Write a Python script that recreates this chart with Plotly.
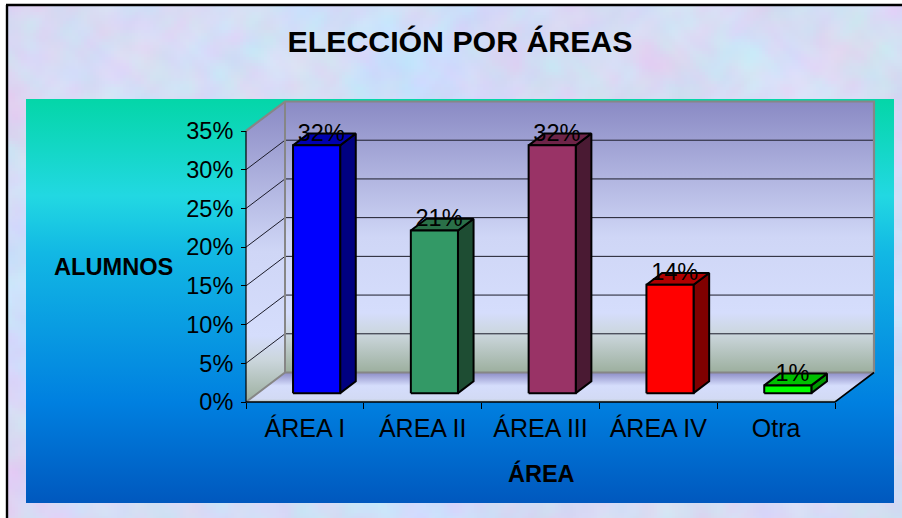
import base64, struct, zlib
import numpy as np
import plotly.graph_objects as go

# ---- data ----
categories = ["ÁREA I", "ÁREA II", "ÁREA III", "ÁREA IV", "Otra"]
values = [32, 21, 32, 14, 1]
labels = ["32%", "21%", "32%", "14%", "1%"]
y_ticks = [0, 5, 10, 15, 20, 25, 30, 35]
y_ticktext = ["0%", "5%", "10%", "15%", "20%", "25%", "30%", "35%"]
front_colors = ["#0000FF", "#339966", "#993366", "#FF0000", "#00FF00"]
side_colors = ["#000080", "#1E4D33", "#4A1A33", "#800000", "#009900"]
top_colors = ["#0000B0", "#2A7048", "#6E2448", "#B00000", "#00C000"]

W, H = 902, 518
X0, Y0 = 246, 402       # origin of the front plane in pixels
PX_X = 117.8            # pixels per category
PX_Y = 7.743            # pixels per percent
DX = 39 / PX_X          # depth shift in x units
DY = 29.5 / PX_Y        # depth shift in y units
BAR = 0.4
D_FRONT, D_BACK = 0.3, 0.7
N = len(categories)
YMAX = y_ticks[-1]
FONT = "Liberation Sans, Arial, sans-serif"


def px_x(p):
    return (p - X0) / PX_X


def px_y(p):
    return (Y0 - p) / PX_Y


def proj(x, y, d):
    return x + DX * d, y + DY * d


def texture():
    yy, xx = np.mgrid[0:H // 3 + 1, 0:W // 3 + 1].astype(float)

    def blobs(k, ph):
        out = np.zeros_like(xx)
        for j, (fx, fy, amp) in enumerate([(0.031, 0.043, 0.7), (0.067, 0.053, 0.8),
                                           (0.113, 0.137, 0.8), (0.241, 0.197, 0.6),
                                           (0.431, 0.379, 0.4)]):
            wx = xx + 5 * np.sin(yy * 0.19 * k + j + ph)
            wy = yy + 5 * np.sin(xx * 0.17 * k + 2 * j + ph)
            out += amp * np.sin(wx * fx * k + ph + j) * np.sin(wy * fy * k + 1.7 * ph - j)
        return out

    a, b, c = blobs(1.0, 0.4), blobs(1.13, 2.1), blobs(0.91, 4.3)
    img = np.stack([212 + 8 * a - 2 * b, 221 + 6 * b - 4 * a, 246 + 4 * c], -1)
    img = np.clip(img, 0, 255).astype(np.uint8)
    img = img.repeat(3, 0).repeat(3, 1)[:H, :W]
    raw = b"".join(b"\x00" + row.tobytes() for row in img)

    def chunk(t, d):
        return struct.pack(">I", len(d)) + t + d + struct.pack(">I", zlib.crc32(t + d))

    png = (b"\x89PNG\r\n\x1a\n" +
           chunk(b"IHDR", struct.pack(">IIBBBBB", W, H, 8, 2, 0, 0, 0)) +
           chunk(b"IDAT", zlib.compress(raw, 9)) + chunk(b"IEND", b""))
    return "data:image/png;base64," + base64.b64encode(png).decode()


def poly(xs, ys, color=None, line=None, lw=1, grad=None):
    kw = dict(x=list(xs) + [xs[0]], y=list(ys) + [ys[0]], mode="lines", fill="toself",
              hoverinfo="skip", showlegend=False,
              line=dict(color=line or "rgba(0,0,0,0)", width=lw, simplify=False))
    if grad is not None:
        kw["fillgradient"] = dict(type="vertical", colorscale=grad[0], start=grad[1], stop=grad[2])
        kw["fillcolor"] = "rgba(0,0,0,0)"
    else:
        kw["fillcolor"] = color
    return go.Scatter(**kw)


def path(xs, ys, color, lw):
    return go.Scatter(x=xs, y=ys, mode="lines", line=dict(color=color, width=lw),
                      hoverinfo="skip", showlegend=False)


fig = go.Figure()

# chart panel gradient
pl, pr, pt, pb = px_x(26), px_x(894), px_y(99), px_y(503)
panel_scale = [[0, "#0058BE"], [0.25, "#0080E0"], [0.62, "#12B8E4"], [0.76, "#22D8E2"], [1, "#04D6A8"]]
fig.add_trace(poly([pl, pr, pr, pl], [pb, pb, pt, pt], grad=(panel_scale, pb, pt)))

wall_scale = [[0, "#9CAF9E"], [0.14, "#CBD6DC"], [0.22, "#D5DDFC"], [0.5, "#CFD6F6"], [1, "#8A8AC4"]]
# back wall
bx0, by0 = proj(0, 0, 1)
bx1, by1 = proj(N, YMAX, 1)
fig.add_trace(poly([bx0, bx1, bx1, bx0], [by0, by0, by1, by1], grad=(wall_scale, by0, by1)))
# side wall
fx0, fy0 = proj(0, 0, 0)
fx1, fy1 = proj(0, YMAX, 0)
fig.add_trace(poly([fx0, bx0, bx0, fx1], [fy0, by0, by1, fy1], grad=(wall_scale, fy0, by1)))
# floor
floor_scale = [[0, "#B4C2BC"], [0.1, "#D2DAF4"], [0.55, "#D5DDFC"], [1, "#8C8CC6"]]
ex0, ey0 = proj(N, 0, 0)
fig.add_trace(poly([fx0, ex0, bx1, bx0], [fy0, ey0, by0, by0], grad=(floor_scale, fy0, by0)))

# gridlines
for t in y_ticks[1:-1]:
    gx, gy = proj(0, t, 1)
    fig.add_trace(path([0, gx, bx1], [t, gy, gy], "#1c1c2a", 1))
# grey wall edges
fig.add_trace(path([fx0, fx1, bx0, bx1, bx1], [YMAX, YMAX, by1, by1, by0], "#868686", 2.2))
fig.add_trace(path([bx0, bx0], [by0, by1], "#868686", 2))
fig.add_trace(path([fx0, bx0, bx1], [fy0, by0, by0], "#868686", 2))

# 3D bars, computed from the values
for i, v in enumerate(values):
    c = i + 0.5
    l, r = c - BAR / 2, c + BAR / 2
    fl, fb = proj(l, 0, D_FRONT)
    fr, ft = proj(r, v, D_FRONT)
    bl, bb = proj(l, 0, D_BACK)
    br, bt = proj(r, v, D_BACK)
    fig.add_trace(poly([fr, br, br, fr], [fb, bb, bt, ft], side_colors[i], "#000", 2))
    fig.add_trace(poly([fl, fr, br, bl], [ft, ft, bt, bt], top_colors[i], "#000", 2))
    fig.add_trace(poly([fl, fr, fr, fl], [fb, fb, ft, ft], front_colors[i], "#000", 2))

# axis lines
fig.add_trace(path([0, 0], [0, YMAX], "#000", 1.2))
fig.add_trace(path([0, N, proj(N, 0, 1)[0]], [0, 0, proj(N, 0, 1)[1]], "#000", 1.6))

# data labels
lx, ly = [], []
for i, v in enumerate(values):
    a, b = proj(i + 0.5, v, 0.42)
    lx.append(a)
    ly.append(b - 5 / PX_Y)
fig.add_trace(go.Scatter(x=lx, y=ly, mode="text", text=labels, textposition="top center",
                         textfont=dict(family=FONT, size=23.5, color="#000"),
                         hoverinfo="skip", showlegend=False))

fig.update_layout(
    width=W, height=H, autosize=False,
    margin=dict(l=0, r=0, t=0, b=0),
    paper_bgcolor="#ffffff", plot_bgcolor="rgba(0,0,0,0)",
    showlegend=False,
    title=dict(text="<b>ELECCIÓN POR ÁREAS</b>", x=460 / W, xanchor="center",
               y=1 - 41 / H, yanchor="middle", font=dict(family=FONT, size=30.3, color="#000")),
    xaxis=dict(range=[px_x(0), px_x(W)], domain=[0, 1], anchor="free", position=1 - Y0 / H,
               tickmode="array", tickvals=[i + 0.5 for i in range(N)], ticktext=categories,
               ticks="", showgrid=False, zeroline=False, showline=False,
               ticklabelstandoff=9, tickfont=dict(family=FONT, size=25, color="#000"),
               minor=dict(tickmode="array", tickvals=list(range(N + 1)), ticks="outside",
                          ticklen=6, tickwidth=1.2, tickcolor="#000", showgrid=False),
               fixedrange=True),
    yaxis=dict(range=[px_y(H), px_y(0)], domain=[0, 1], anchor="free", position=X0 / W,
               tickmode="array", tickvals=y_ticks, ticktext=y_ticktext,
               ticks="outside", ticklen=5, tickwidth=1.2, tickcolor="#000",
               showgrid=False, zeroline=False, showline=False, ticklabelstandoff=3,
               tickfont=dict(family=FONT, size=23.5, color="#000"), fixedrange=True),
    images=[dict(source=texture(), xref="paper", yref="paper", x=0, y=1, sizex=1, sizey=1,
                 xanchor="left", yanchor="top", sizing="stretch", layer="below")],
    shapes=[
        dict(type="rect", xref="paper", yref="paper", x0=0, x1=7 / W, y0=0, y1=1,
             fillcolor="#fff", line_width=0, layer="below"),
        dict(type="rect", xref="paper", yref="paper", x0=0, x1=1, y0=1 - 5 / H, y1=1,
             fillcolor="#fff", line_width=0, layer="below"),
        dict(type="line", xref="paper", yref="paper", x0=7 / W, x1=7 / W, y0=0, y1=1 - 5 / H,
             line=dict(color="#000", width=2.4)),
        dict(type="line", xref="paper", yref="paper", x0=6 / W, x1=1, y0=1 - 5 / H, y1=1 - 5 / H,
             line=dict(color="#000", width=2.4)),
    ],
    annotations=[
        dict(text="<b>ALUMNOS</b>", xref="paper", yref="paper", x=114 / W, y=1 - 267 / H,
             xanchor="center", yanchor="middle", showarrow=False,
             font=dict(family=FONT, size=23.6, color="#000")),
        dict(text="<b>ÁREA</b>", xref="paper", yref="paper", x=541 / W, y=1 - 473 / H,
             xanchor="center", yanchor="middle", showarrow=False,
             font=dict(family=FONT, size=23.5, color="#000")),
    ],
)
fig.write_html("out.html", config=dict(displayModeBar=False),
               post_script="document.body.style.margin='0';document.body.style.overflow='hidden';")
